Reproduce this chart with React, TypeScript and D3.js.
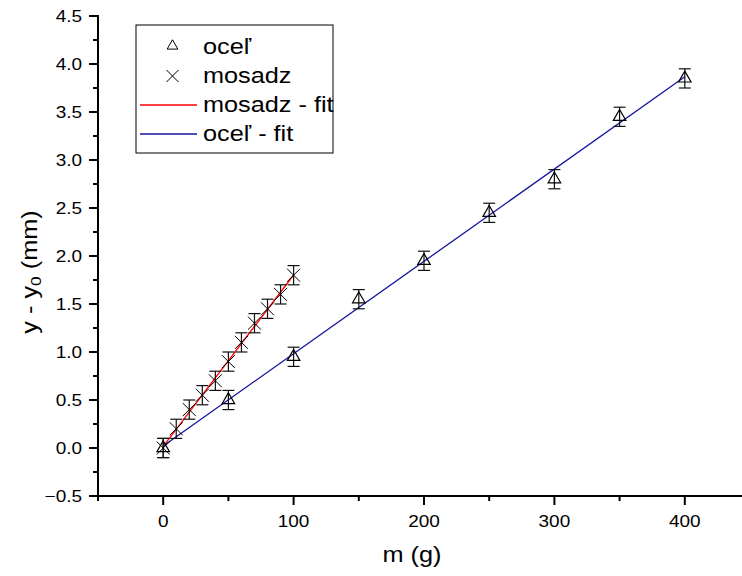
import React from "react";
import * as d3 from "d3";

// oceľ (steel) measurements
const steelMass = [0, 50, 100, 150, 200, 250, 300, 350, 400];
const steelDefl = [0.0, 0.5, 0.95, 1.55, 1.95, 2.45, 2.8, 3.45, 3.85];
// mosadz (brass) measurements
const brassMass = [0, 10, 20, 30, 40, 50, 60, 70, 80, 90, 100];
const brassDefl = [0.0, 0.2, 0.4, 0.55, 0.7, 0.9, 1.1, 1.3, 1.45, 1.6, 1.8];
const yError = 0.1;

const xTicks = [0, 100, 200, 300, 400];
const xMinor = [-50, 50, 150, 250, 350, 450];
const yTicks = [-0.5, 0, 0.5, 1, 1.5, 2, 2.5, 3, 3.5, 4, 4.5];
const yMinor = d3.range(-0.25, 4.5, 0.5);

const legendItems = ["oceľ", "mosadz", "mosadz - fit", "oceľ - fit"];

const W = 742;
const H = 576;
const font = "Liberation Sans, Arial, sans-serif";
const stretch = 1.15; // the original text is a bit wider than plain Arial

// ordinary least squares
function linFit(xs: number[], ys: number[]) {
  const mx = d3.mean(xs)!;
  const my = d3.mean(ys)!;
  let sxy = 0;
  let sxx = 0;
  xs.forEach((x, i) => {
    sxy += (x - mx) * (ys[i] - my);
    sxx += (x - mx) * (x - mx);
  });
  const b = sxy / sxx;
  return { a: my - b * mx, b };
}

const Cross = ({ x, y, r }: { x: number; y: number; r: number }) => (
  <path d={`M${x - r},${y - r}L${x + r},${y + r}M${x - r},${y + r}L${x + r},${y - r}`} stroke="#000" strokeWidth={1} fill="none" />
);

const Label = ({ x, y, anchor, size, children }: any) => (
  <text
    transform={`translate(${x},${y}) scale(${stretch},1)`}
    textAnchor={anchor}
    fontSize={size}
    dominantBaseline="central"
  >
    {children}
  </text>
);

const triangle = d3.symbol().type(d3.symbolTriangle);

export default function App() {
  const x = d3.scaleLinear().domain([-50, 450]).range([98, 750]);
  const y = d3.scaleLinear().domain([-0.5, 4.5]).range([496, 16]);

  const steelFit = linFit(steelMass, steelDefl);
  const brassFit = linFit(brassMass, brassDefl);
  const fitPath = (f: { a: number; b: number }, m0: number, m1: number) =>
    d3.line<number>().x((m) => x(m)).y((m) => y(f.a + f.b * m))([m0, m1])!;

  const errBar = (cx: number, v: number) => (
    <g stroke="#111" strokeWidth={1.2}>
      <line x1={cx} x2={cx} y1={y(v - yError)} y2={y(v + yError)} />
      <line x1={cx - 6} x2={cx + 6} y1={y(v - yError)} y2={y(v - yError)} />
      <line x1={cx - 6} x2={cx + 6} y1={y(v + yError)} y2={y(v + yError)} />
    </g>
  );

  const x0 = x.range()[0];
  const yBase = y.range()[0];

  return (
    <svg width={W} height={H} style={{ position: "absolute", left: 0, top: 0, background: "#fff" }} fontFamily={font}>
      {/* fits */}
      <path d={fitPath(brassFit, 0, 100)} stroke="#ff0000" strokeWidth={1.3} fill="none" />
      <path d={fitPath(steelFit, 0, 400)} stroke="#1414a0" strokeWidth={1.3} fill="none" />

      {/* steel */}
      {steelMass.map((m, i) => (
        <g key={"s" + i}>
          {errBar(x(m), steelDefl[i])}
          <path d={triangle.size(68)()!} transform={`translate(${x(m)},${y(steelDefl[i])})`} fill="none" stroke="#000" strokeWidth={1.2} />
        </g>
      ))}
      {/* brass */}
      {brassMass.map((m, i) => (
        <g key={"b" + i}>
          {errBar(x(m), brassDefl[i])}
          <Cross x={x(m)} y={y(brassDefl[i])} r={6.5} />
        </g>
      ))}

      {/* axes */}
      <g stroke="#000" strokeWidth={2}>
        <line x1={x0} x2={x0} y1={y(4.5) - 1} y2={yBase} />
        <line x1={x0} x2={W + 10} y1={yBase} y2={yBase} />
        {yTicks.map((t) => (
          <line key={"yt" + t} x1={x0 - 9} x2={x0} y1={y(t)} y2={y(t)} />
        ))}
        {yMinor.map((t) => (
          <line key={"ym" + t} x1={x0 - 5} x2={x0} y1={y(t)} y2={y(t)} />
        ))}
        {xTicks.map((t) => (
          <line key={"xt" + t} x1={x(t)} x2={x(t)} y1={yBase} y2={yBase + 9} />
        ))}
        {xMinor.map((t) => (
          <line key={"xm" + t} x1={x(t)} x2={x(t)} y1={yBase} y2={yBase + 5} />
        ))}
      </g>
      <g fill="#000">
        {yTicks.map((t) => (
          <Label key={"yl" + t} x={x0 - 16} y={y(t)} anchor="end" size={16.5}>
            {d3.format(".1f")(t)}
          </Label>
        ))}
        {xTicks.map((t) => (
          <Label key={"xl" + t} x={x(t)} y={yBase + 25} anchor="middle" size={16.5}>
            {t}
          </Label>
        ))}
      </g>
      <Label x={412} y={555} anchor="middle" size={22}>
        m (g)
      </Label>
      <text
        transform={`translate(30,272) rotate(-90) scale(${stretch},1)`}
        fontSize={22}
        textAnchor="middle"
        dominantBaseline="central"
      >
        y - y<tspan fontSize={15} dy={5}>0</tspan>
        <tspan dy={-5}> (mm)</tspan>
      </text>

      {/* legend */}
      <g>
        <rect x={136} y={25} width={197} height={128} fill="#fff" stroke="#000" strokeWidth={1} />
        <path d={triangle.size(50)()!} transform="translate(172.5,46)" fill="none" stroke="#000" strokeWidth={1} />
        <Cross x={172.5} y={76} r={6} />
        <line x1={140} x2={197} y1={105} y2={105} stroke="#ff0000" strokeWidth={1.3} />
        <line x1={140} x2={197} y1={134} y2={134} stroke="#1414a0" strokeWidth={1.3} />
        {legendItems.map((t, i) => (
          <Label key={t} x={203} y={47 + i * 29} anchor="start" size={22}>
            {t}
          </Label>
        ))}
      </g>
    </svg>
  );
}
